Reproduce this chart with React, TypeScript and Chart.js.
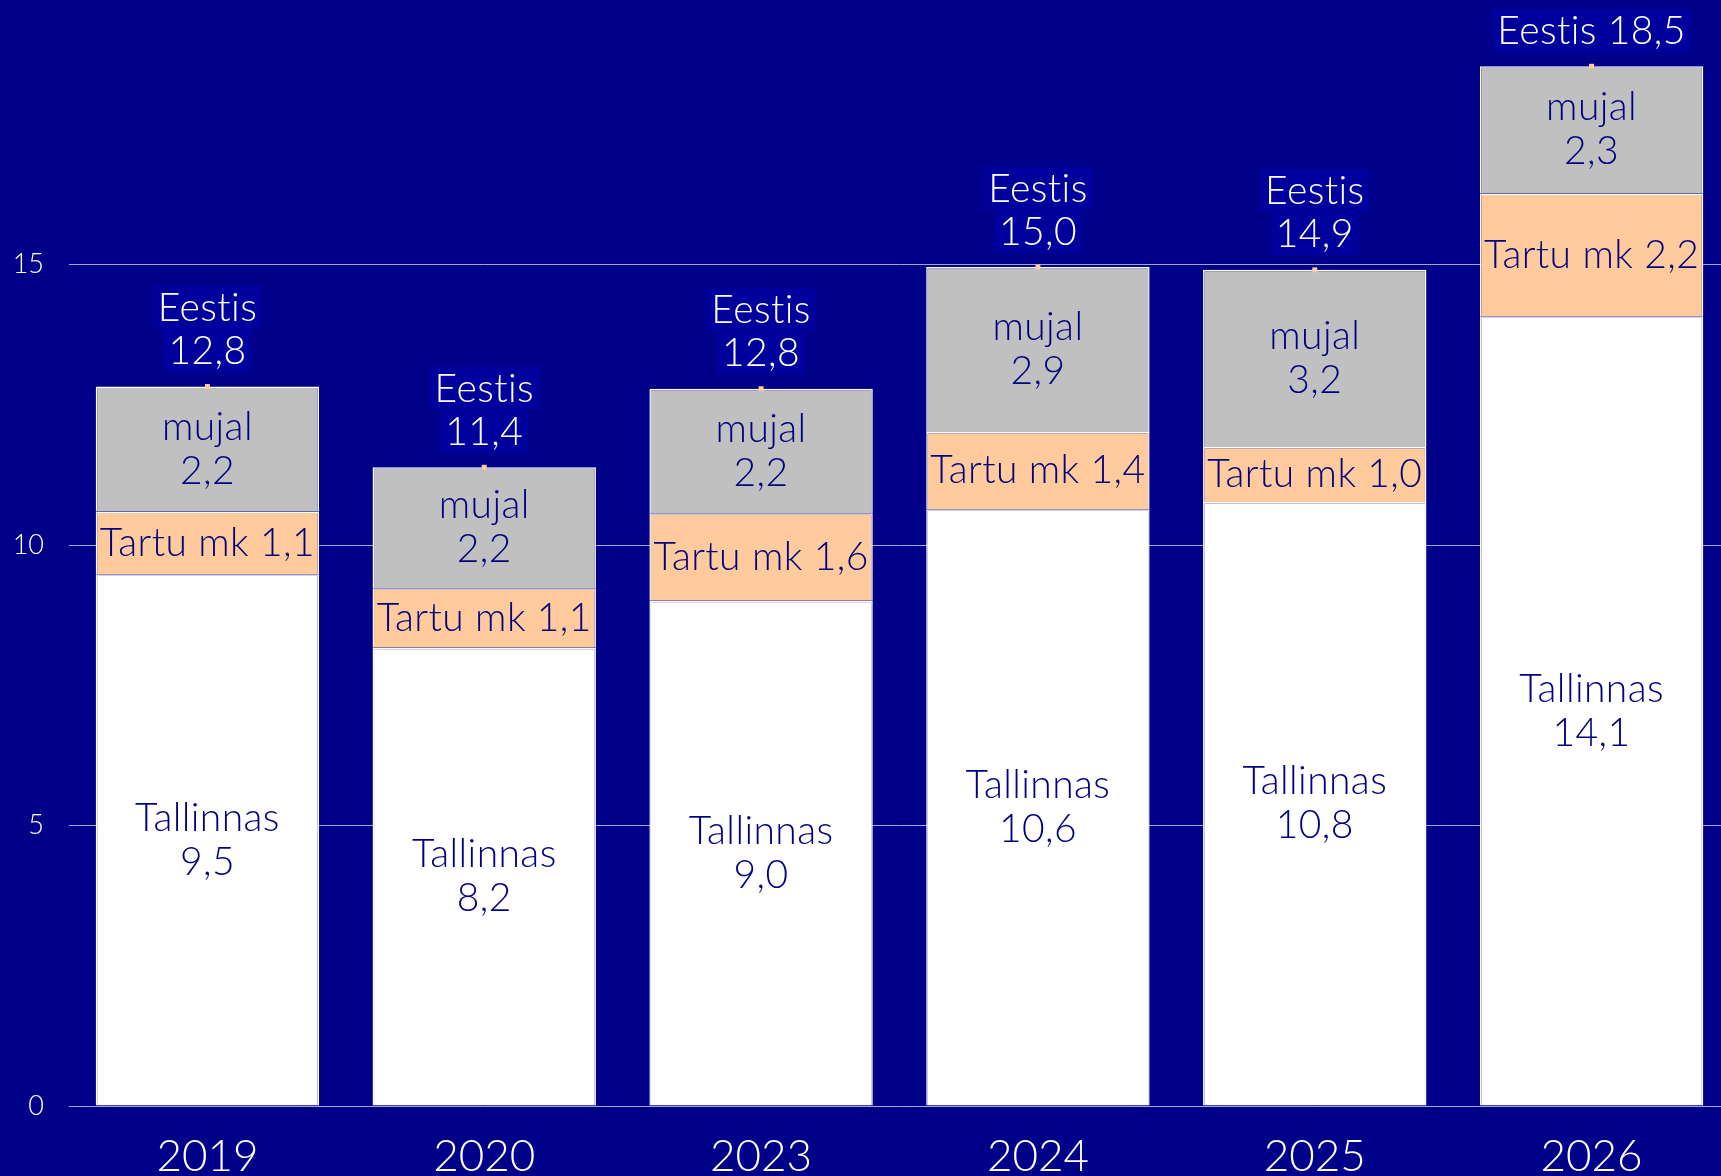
import React, { useEffect, useRef } from "react";
import { Chart, registerables } from "chart.js";

Chart.register(...registerables);

const years = ["2019", "2020", "2023", "2024", "2025", "2026"];
const tallinnas = [9.48, 8.17, 9.01, 10.64, 10.77, 14.08];
const tartu = [1.12, 1.06, 1.56, 1.38, 0.98, 2.19];
const mujal = [2.23, 2.16, 2.22, 2.94, 3.16, 2.27];
const eestis = [12.83, 11.39, 12.79, 14.96, 14.91, 18.54];
const yTicks = [0, 5, 10, 15];

const BG = "#000088";
const NAVY = "#000080";
const BOX = "#00009c";
const PEACH = "#ffca9c";
const GREY = "#c0c0c0";
const FONT = "Lato";
const W = "300";

const fmt = (v: number) => v.toFixed(1).replace(".", ",");

const labelPlugin = {
  id: "segLabels",
  afterDatasetsDraw(chart: any) {
    const ctx = chart.ctx;
    ctx.save();
    ctx.textAlign = "center";
    ctx.textBaseline = "middle";
    ctx.font = `${W} 39px ${FONT}`;
    try {
      ctx.letterSpacing = "0.4px";
    } catch (e) {}
    const lh = 44;
    [0, 1, 2].forEach((di) => {
      const meta = chart.getDatasetMeta(di);
      const ds = chart.data.datasets[di];
      meta.data.forEach((el: any, j: number) => {
        const v = ds.data[j] as number;
        const cy = (el.y + el.base) / 2;
        let lines: string[];
        if (di === 0) lines = ["Tallinnas", fmt(v)];
        else if (di === 1) lines = ["Tartu mk " + fmt(v)];
        else lines = ["mujal", fmt(v)];
        ctx.fillStyle = NAVY;
        const start = cy - ((lines.length - 1) * lh) / 2;
        lines.forEach((t, k) => ctx.fillText(t, el.x, start + k * lh));
      });
    });
    const meta = chart.getDatasetMeta(3);
    const ds = chart.data.datasets[3];
    meta.data.forEach((el: any, j: number) => {
      const v = ds.data[j] as number;
      const bottomY = el.y - 36;
      const lh2 = 43;
      let lines: string[];
      if (bottomY - lh2 - lh2 / 2 < 0) lines = ["Eestis " + fmt(v)];
      else lines = ["Eestis", fmt(v)];
      lines.forEach((t, k) => {
        const y = bottomY - (lines.length - 1 - k) * lh2;
        const w = ctx.measureText(t).width + 10;
        ctx.fillStyle = BOX;
        ctx.fillRect(el.x - w / 2, y - lh2 / 2, w, lh2);
      });
      lines.forEach((t, k) => {
        const y = bottomY - (lines.length - 1 - k) * lh2;
        ctx.fillStyle = "#ffffff";
        ctx.fillText(t, el.x, y + 1);
      });
    });
    ctx.restore();
  },
};

export default function App() {
  const ref = useRef<HTMLCanvasElement>(null);
  useEffect(() => {
    let chart: Chart | null = null;
    let cancelled = false;
    const make = () => {
      if (cancelled || !ref.current) return;
      chart = new Chart(ref.current, {
        type: "bar",
        data: {
          labels: years,
          datasets: [
            {
              label: "Tallinnas",
              data: tallinnas,
              backgroundColor: "#ffffff",
              borderColor: "#ffffff",
              borderWidth: 1.5,
              stack: "s",
              order: 2,
            },
            {
              label: "Tartu mk",
              data: tartu,
              backgroundColor: PEACH,
              borderColor: "#ffffff",
              borderWidth: 1.5,
              stack: "s",
              order: 2,
            },
            {
              label: "mujal",
              data: mujal,
              backgroundColor: GREY,
              borderColor: "#ffffff",
              borderWidth: 1.5,
              stack: "s",
              order: 2,
            },
            {
              type: "line",
              label: "Eestis",
              data: eestis,
              showLine: false,
              pointStyle: "rect",
              pointRadius: 3.5,
              pointBackgroundColor: PEACH,
              pointBorderWidth: 0,
              stack: "total",
              order: 1,
            } as any,
          ],
        },
        options: {
          animation: false,
          responsive: false,
          maintainAspectRatio: false,
          layout: { padding: 0 },
          plugins: { legend: { display: false }, tooltip: { enabled: false } },
          datasets: { bar: { categoryPercentage: 1, barPercentage: 0.807 } },
          scales: {
            x: {
              stacked: true,
              grid: { display: false, drawTicks: false },
              border: { display: false },
              ticks: {
                color: "#ffffff",
                font: { family: FONT, size: 44, weight: W as any },
                padding: 24,
              },
              afterFit: (s: any) => {
                s.height = 70;
                s.paddingLeft = 0;
                s.paddingRight = 0;
                s.paddingTop = 0;
                s.paddingBottom = 0;
              },
            },
            y: {
              stacked: true,
              min: 0,
              max: 19.65,
              afterBuildTicks: (s: any) => {
                s.ticks = yTicks.map((v) => ({ value: v }));
              },
              grid: { color: "#a4a4d2", lineWidth: 1, drawTicks: false },
              border: { display: false },
              ticks: {
                color: "#ffffff",
                font: { family: FONT, size: 27, weight: W as any },
                padding: 25,
              },
              afterFit: (s: any) => {
                s.width = 69;
                s.paddingTop = 0;
                s.paddingBottom = 0;
                s.paddingLeft = 0;
                s.paddingRight = 0;
              },
            },
          },
        },
        plugins: [labelPlugin],
      });
    };
    const fonts: any = (document as any).fonts;
    if (fonts && fonts.load) {
      Promise.all([fonts.load(`${W} 39px ${FONT}`), fonts.load(`${W} 44px ${FONT}`)])
        .then(make)
        .catch(make);
    } else make();
    return () => {
      cancelled = true;
      if (chart) chart.destroy();
    };
  }, []);
  return (
    <div
      style={{
        position: "fixed",
        left: 0,
        top: 0,
        width: 1721,
        height: 1176,
        overflow: "hidden",
        background: BG,
      }}
    >
      <canvas
        ref={ref}
        width={1734}
        height={1176}
        style={{ display: "block", width: 1734, height: 1176 }}
      />
    </div>
  );
}
